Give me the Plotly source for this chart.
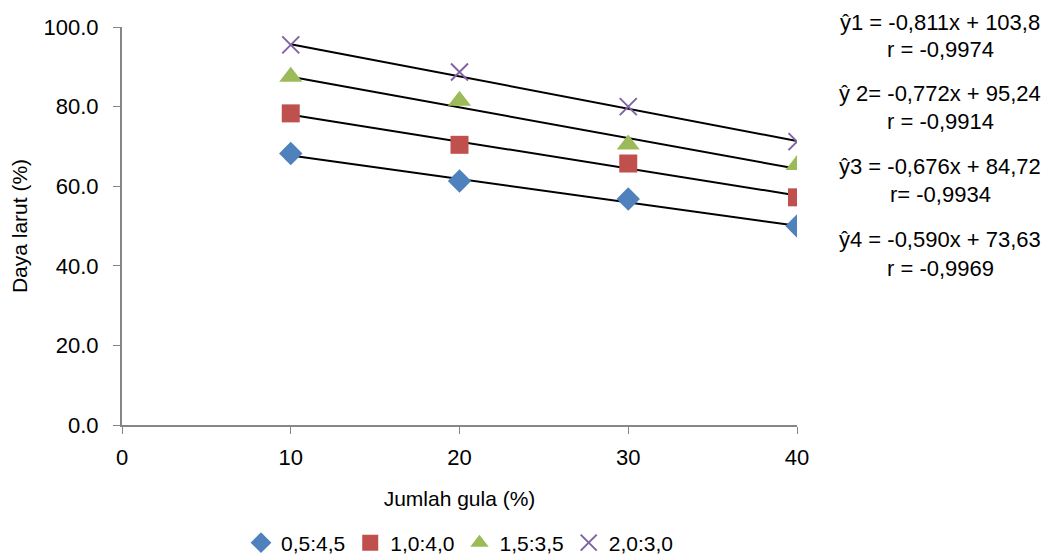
import plotly.graph_objects as go

# Data
x_vals = [10, 20, 30, 40]
series_names = ["0,5:4,5", "1,0:4,0", "1,5:3,5", "2,0:3,0"]
s1 = [68.2, 61.3, 56.8, 50.0]   # 0,5:4,5
s2 = [78.3, 70.4, 65.7, 57.2]   # 1,0:4,0
s3 = [87.5, 81.5, 70.5, 65.3]   # 1,5:3,5
s4 = [95.5, 88.7, 80.0, 71.2]   # 2,0:3,0
# trendline coefficients (slope, intercept) as printed on chart
slopes = [-0.590, -0.676, -0.772, -0.811]
intercepts = [73.63, 84.72, 95.24, 103.8]
eq_texts = ["ŷ1 = -0,811x + 103,8", "r = -0,9974",
            "ŷ 2= -0,772x + 95,24", "r = -0,9914",
            "ŷ3 = -0,676x + 84,72", "r= -0,9934",
            "ŷ4 = -0,590x + 73,63", "r = -0,9969"]
y_ticks = [0, 20, 40, 60, 80, 100]
x_ticks = [0, 10, 20, 30, 40]

FONT = "Liberation Sans Narrow, Arial Narrow, Liberation Sans, Arial"
colors = ["#4F81BD", "#C0504D", "#9BBB59", "#8064A2"]
symbols = ["diamond", "square", "triangle-up", "x-thin"]
sizes = [18, 18, 20, 17]

fig = go.Figure()

# trendlines
for m, b in zip(slopes, intercepts):
    xs = [x_vals[0], x_vals[-1]]
    fig.add_trace(go.Scatter(x=xs, y=[m * v + b for v in xs], mode="lines",
                             line=dict(color="black", width=2),
                             showlegend=False, hoverinfo="skip"))

for name, ys, c, sym, sz in zip(series_names, [s1, s2, s3, s4], colors, symbols, sizes):
    if sym == "x-thin":
        marker = dict(symbol=sym, size=sz, color=c, line=dict(color=c, width=2))
    else:
        marker = dict(symbol=sym, size=sz, color=c, line=dict(width=0))
    fig.add_trace(go.Scatter(x=x_vals, y=ys, mode="markers", name=name, marker=marker))

# page body has an 8px margin; plot area target: x 122..797, y 27..425
OFF = 8
plot_top, plot_bot, plot_left, plot_w = 27, 425, 122, 675
ann_y_px = [22, 50, 93, 122, 166, 194, 239, 268]
for t, py in zip(eq_texts, ann_y_px):
    fig.add_annotation(text=t, xref="paper", yref="paper",
                       x=(940 - plot_left) / plot_w, y=(plot_bot - py) / (plot_bot - plot_top),
                       xanchor="center", yanchor="middle", showarrow=False,
                       font=dict(family=FONT, size=22, color="black"))

fig.update_layout(
    width=1059, height=557,
    margin=dict(l=122 - OFF, r=1059 - 797 + OFF, t=27 - OFF, b=557 - 425 + OFF, autoexpand=False),
    paper_bgcolor="white", plot_bgcolor="white",
    font=dict(family=FONT, size=22, color="black"),
    legend=dict(orientation="h", x=0.5, xanchor="center", y=-(543 - 425) / 398, yanchor="middle",
                font=dict(family=FONT, size=21, color="black"),
                itemwidth=30, tracegroupgap=0),
    xaxis=dict(range=[0, 40], tickvals=x_ticks, ticks="outside", ticklen=7,
               tickcolor="#868686", showline=True, linecolor="#868686", linewidth=2,
               showgrid=False, zeroline=False, ticklabelstandoff=5,
               title=dict(text="Jumlah gula (%)", font=dict(family=FONT, size=21), standoff=22)),
    yaxis=dict(range=[0, 100], tickvals=y_ticks, tickformat=".1f", ticks="outside", ticklen=7,
               tickcolor="#868686", showline=True, linecolor="#868686", linewidth=2,
               showgrid=False, zeroline=False, ticklabelstandoff=10,
               title=dict(text="Daya larut (%)", font=dict(family=FONT, size=21), standoff=10)),
)

fig.write_html("out.html")
